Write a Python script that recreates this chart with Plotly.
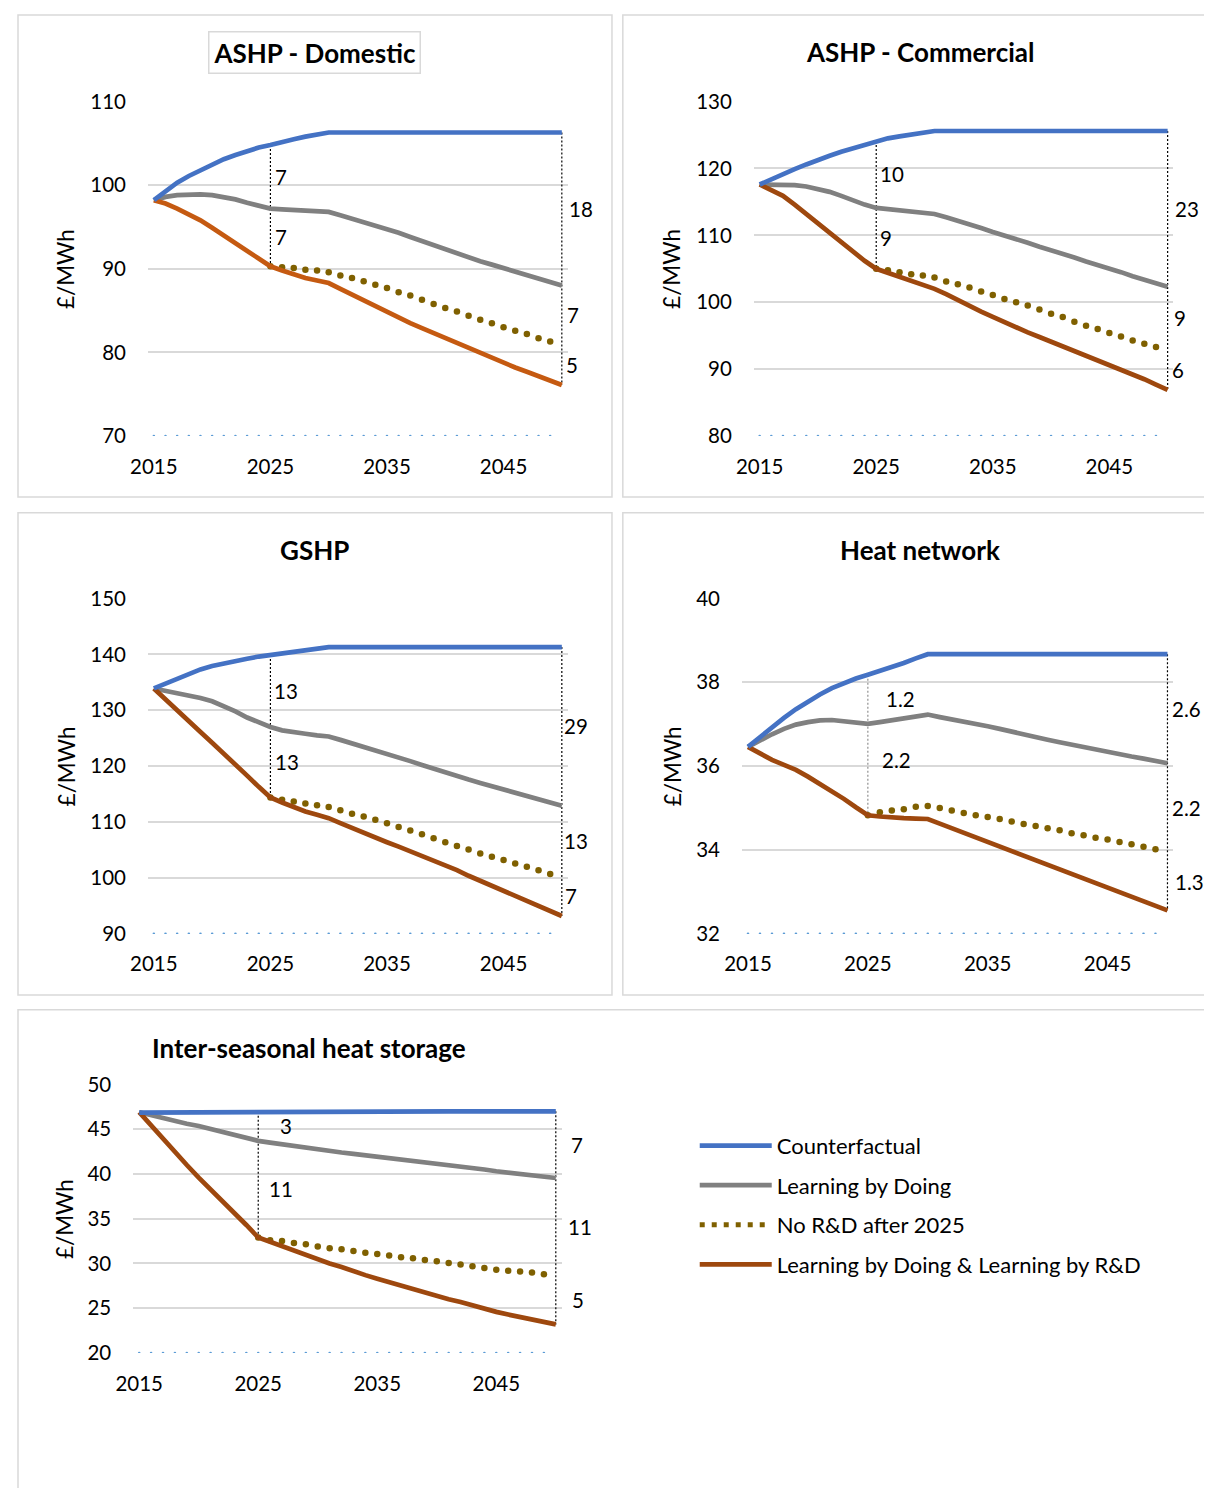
import plotly.graph_objects as go

years = list(range(2015, 2051))
years_norrd = list(range(2025, 2051))
baseline_years = list(range(2015, 2050))

# ---------------- Panel 1: ASHP - Domestic ----------------
p1_cf = [98.2, 99.3, 100.3, 101.1, 101.8, 102.5, 103.1, 103.6, 104.1, 104.5, 104.8,
         105.2, 105.5, 105.8, 106.1, 106.3, 106.3, 106.3, 106.3, 106.3, 106.3,
         106.3, 106.3, 106.3, 106.3, 106.3, 106.3, 106.3, 106.3, 106.3, 106.3,
         106.3, 106.3, 106.3, 106.3, 106.3]
p1_lbd = [98.2, 98.6, 98.8, 98.9, 98.9, 98.8, 98.6, 98.3, 97.9, 97.5, 97.2,
          97.1, 97.0, 96.9, 96.85, 96.8, 96.4, 96.0, 95.6, 95.2, 94.8,
          94.3, 93.8, 93.3, 92.8, 92.4, 91.9, 91.4, 90.9, 90.5, 90.1,
          89.7, 89.3, 88.9, 88.4, 88.0]
p1_rd = [98.2, 97.8, 97.2, 96.5, 95.8, 94.9, 94.0, 93.1, 92.2, 91.2, 90.3,
         89.8, 89.3, 88.9, 88.6, 88.3, 87.6, 86.9, 86.2, 85.5, 84.8,
         84.2, 83.5, 82.9, 82.3, 81.7, 81.1, 80.5, 79.9, 79.3, 78.7,
         78.2, 77.7, 77.2, 76.7, 76.1]
p1_norrd = [90.3, 90.2, 90.1, 89.9, 89.8, 89.6, 89.2, 88.9, 88.5, 88.1, 87.7,
            87.2, 86.8, 86.3, 85.8, 85.3, 84.9, 84.4, 83.9, 83.5, 83.0,
            82.6, 82.2, 81.7, 81.3, 80.9]
p1_labels_2025 = ["7", "7"]
p1_labels_2050 = ["18", "7", "5"]
p1_yticks = [70, 80, 90, 100, 110]

# ---------------- Panel 2: ASHP - Commercial ----------------
p2_cf = [117.6, 118.4, 119.1, 119.9, 120.6, 121.3, 121.9, 122.5, 123.0, 123.6, 124.1,
         124.5, 124.8, 125.1, 125.4, 125.6, 125.6, 125.6, 125.6, 125.6, 125.6,
         125.6, 125.6, 125.6, 125.6, 125.6, 125.6, 125.6, 125.6, 125.6, 125.6,
         125.6, 125.6, 125.6, 125.6, 125.6]
p2_lbd = [117.6, 117.6, 117.6, 117.5, 117.3, 116.9, 116.5, 115.9, 115.2, 114.6, 114.1,
          113.9, 113.7, 113.5, 113.35, 113.2, 112.7, 112.2, 111.6, 111.1, 110.5,
          110.0, 109.4, 108.9, 108.3, 107.8, 107.2, 106.7, 106.1, 105.6, 105.0,
          104.5, 103.9, 103.4, 102.8, 102.3]
p2_rd = [117.6, 116.8, 115.9, 114.6, 113.2, 111.8, 110.4, 108.9, 107.5, 106.2, 105.0,
         104.4, 103.9, 103.3, 102.6, 102.0, 101.2, 100.3, 99.5, 98.6, 97.8,
         97.0, 96.3, 95.5, 94.8, 94.1, 93.4, 92.7, 92.1, 91.4, 90.7,
         90.0, 89.3, 88.5, 87.7, 86.9]
p2_norrd = [105.0, 104.8, 104.5, 104.2, 104.0, 103.7, 103.1, 102.7, 102.2, 101.6, 101.1,
            100.5, 100.0, 99.5, 98.9, 98.3, 97.8, 97.1, 96.5, 96.0, 95.4,
            94.9, 94.3, 93.8, 93.3, 92.9]
p2_labels_2025 = ["10", "9"]
p2_labels_2050 = ["23", "9", "6"]
p2_yticks = [80, 90, 100, 110, 120, 130]

# ---------------- Panel 3: GSHP ----------------
p3_cf = [133.9, 134.8, 135.6, 136.5, 137.3, 137.9, 138.4, 138.8, 139.2, 139.6, 139.9,
         140.2, 140.4, 140.7, 141.0, 141.3, 141.3, 141.3, 141.3, 141.3, 141.3,
         141.3, 141.3, 141.3, 141.3, 141.3, 141.3, 141.3, 141.3, 141.3, 141.3,
         141.3, 141.3, 141.3, 141.3, 141.3]
p3_lbd = [133.9, 133.5, 133.1, 132.7, 132.2, 131.6, 130.8, 129.8, 128.7, 127.8, 127.0,
          126.4, 126.0, 125.8, 125.5, 125.3, 124.7, 124.1, 123.5, 122.9, 122.3,
          121.6, 120.9, 120.2, 119.5, 118.8, 118.2, 117.6, 117.0, 116.4, 115.8,
          115.2, 114.6, 114.1, 113.5, 112.9]
p3_rd = [133.9, 131.9, 129.9, 128.0, 126.1, 124.2, 122.3, 120.3, 118.3, 116.3, 114.4,
         113.5, 112.6, 111.9, 111.3, 110.7, 109.8, 108.9, 108.1, 107.2, 106.4,
         105.6, 104.8, 103.9, 103.1, 102.3, 101.4, 100.4, 99.5, 98.5, 97.6,
         96.7, 95.8, 94.9, 94.1, 93.2]
p3_norrd = [114.4, 114.0, 113.7, 113.3, 113.0, 112.7, 112.1, 111.5, 111.0, 110.4, 109.8,
            109.1, 108.5, 107.8, 107.1, 106.4, 105.7, 105.1, 104.4, 103.8, 103.2,
            102.6, 102.0, 101.4, 100.7, 100.2]
p3_labels_2025 = ["13", "13"]
p3_labels_2050 = ["29", "13", "7"]
p3_yticks = [90, 100, 110, 120, 130, 140, 150]

# ---------------- Panel 4: Heat network ----------------
p4_cf = [36.46, 36.70, 36.93, 37.15, 37.36, 37.54, 37.71, 37.86, 37.99, 38.09, 38.18,
         38.27, 38.36, 38.46, 38.57, 38.67, 38.67, 38.67, 38.67, 38.67, 38.67,
         38.67, 38.67, 38.67, 38.67, 38.67, 38.67, 38.67, 38.67, 38.67, 38.67,
         38.67, 38.67, 38.67, 38.67, 38.67]
p4_lbd = [36.46, 36.62, 36.76, 36.89, 36.99, 37.05, 37.09, 37.10, 37.07, 37.04, 37.01,
          37.05, 37.09, 37.14, 37.19, 37.23, 37.17, 37.12, 37.06, 37.01, 36.95,
          36.89, 36.82, 36.76, 36.69, 36.63, 36.57, 36.51, 36.46, 36.40, 36.34,
          36.29, 36.23, 36.18, 36.12, 36.07]
p4_rd = [36.46, 36.30, 36.15, 36.03, 35.91, 35.75, 35.58, 35.40, 35.22, 35.02, 34.83,
         34.80, 34.77, 34.76, 34.75, 34.74, 34.63, 34.52, 34.41, 34.30, 34.19,
         34.08, 33.97, 33.86, 33.75, 33.64, 33.53, 33.42, 33.31, 33.21, 33.10,
         32.99, 32.88, 32.77, 32.67, 32.56]
p4_norrd = [34.83, 34.90, 34.94, 34.97, 35.03, 35.05, 35.00, 34.94, 34.88, 34.83, 34.79,
            34.74, 34.68, 34.62, 34.57, 34.52, 34.47, 34.40, 34.35, 34.29, 34.25,
            34.19, 34.14, 34.08, 34.02, 33.92]
p4_labels_2025 = ["1.2", "2.2"]
p4_labels_2050 = ["2.6", "2.2", "1.3"]
p4_yticks = [32, 34, 36, 38, 40]

# ---------------- Panel 5: Inter-seasonal heat storage ----------------
p5_cf = [46.86, 46.87, 46.88, 46.89, 46.90, 46.91, 46.92, 46.93, 46.94, 46.95, 46.96,
         46.97, 46.98, 46.99, 47.0, 47.0, 47.0, 47.0, 47.0, 47.0, 47.0,
         47.0, 47.0, 47.0, 47.0, 47.0, 47.0, 47.0, 47.0, 47.0, 47.0,
         47.0, 47.0, 47.0, 47.0, 47.0]
p5_lbd = [46.9, 46.55, 46.2, 45.9, 45.6, 45.35, 45.0, 44.7, 44.3, 44.0, 43.7,
          43.5, 43.3, 43.1, 42.9, 42.7, 42.55, 42.4, 42.25, 42.1, 41.95,
          41.8, 41.65, 41.5, 41.35, 41.2, 41.0, 40.85, 40.65, 40.5, 40.3,
          40.15, 40.0, 39.85, 39.7, 39.55]
p5_rd = [46.9, 45.4, 43.9, 42.4, 41.0, 39.6, 38.3, 37.0, 35.7, 34.3, 32.9,
         32.4, 31.9, 31.4, 30.9, 30.4, 30.0, 29.6, 29.1, 28.7, 28.3,
         27.9, 27.5, 27.1, 26.8, 26.4, 26.0, 25.7, 25.3, 25.0, 24.6,
         24.3, 24.0, 23.7, 23.4, 23.2]
p5_norrd = [32.9, 32.6, 32.5, 32.3, 32.15, 31.9, 31.7, 31.6, 31.4, 31.2, 31.05,
            30.9, 30.7, 30.6, 30.4, 30.25, 30.05, 29.9, 29.7, 29.5, 29.3,
            29.2, 29.1, 29.0, 28.8, 28.6]
p5_labels_2025 = ["3", "11"]
p5_labels_2050 = ["7", "11", "5"]
p5_yticks = [20, 25, 30, 35, 40, 45, 50]

series_names = ["Counterfactual", "Learning by Doing", "No R&D after 2025",
                "Learning by Doing & Learning by R&D"]

# ---------------- styling / layout ----------------
# The page body keeps its default 8px margin, so the figure is drawn 8px in
# and 16px smaller than the window; page coordinates below are mapped to it.
PAGE_MARGIN = 8
W, H = 1220 - 2 * PAGE_MARGIN, 1504 - 2 * PAGE_MARGIN
FONT = "Lato, Carlito, 'Open Sans', sans-serif"
BLUE = "#4472C4"
GRAY = "#808080"
OLIVE = "#7F6000"
BROWN = "#9E480E"
ORANGE = "#C55A11"
GRID = "#D9D9D9"
TICK_SIZE = 20.5
LABEL_SIZE = 20.5


def px(x):
    return (x - PAGE_MARGIN) / W


def py(y):
    return 1 - (y - PAGE_MARGIN) / H


panels = [
    dict(title="ASHP - Domestic", cf=p1_cf, lbd=p1_lbd, rd=p1_rd, norrd=p1_norrd,
         l25=p1_labels_2025, l50=p1_labels_2050, yticks=p1_yticks, rdcolor=ORANGE,
         box=(8, 10, 611, 500), dom=(140, 566, 98, 438), title_xy=(309, 48), boxed=True,
         ytitle_x=57, sh25=[(3, 0), (3, 0)], sh50=[(5, 0), (3, 0), (2, 0)], vline25="black"),
    dict(title="ASHP - Commercial", cf=p2_cf, lbd=p2_lbd, rd=p2_rd, norrd=p2_norrd,
         l25=p2_labels_2025, l50=p2_labels_2050, yticks=p2_yticks, rdcolor=BROWN,
         box=(622, 10, 1230, 500), dom=(755, 1181, 98, 438), title_xy=(924, 48), boxed=False,
         ytitle_x=672, sh25=[(2, 0), (2, 0)], sh50=[(5, 0), (4, 0), (2, 0)], vline25="black"),
    dict(title="GSHP", cf=p3_cf, lbd=p3_lbd, rd=p3_rd, norrd=p3_norrd,
         l25=p3_labels_2025, l50=p3_labels_2050, yticks=p3_yticks, rdcolor=BROWN,
         box=(8, 516, 611, 1006), dom=(140, 566, 603, 944), title_xy=(309, 554), boxed=False,
         ytitle_x=57, sh25=[(2, 0), (3, 0)], sh50=[(0, 0), (0, 0), (1, 0)], vline25="black"),
    dict(title="Heat network", cf=p4_cf, lbd=p4_lbd, rd=p4_rd, norrd=p4_norrd,
         l25=p4_labels_2025, l50=p4_labels_2050, yticks=p4_yticks, rdcolor=BROWN,
         box=(622, 516, 1230, 1006), dom=(743, 1181, 603, 944), title_xy=(924, 554), boxed=False,
         ytitle_x=672, sh25=[(16, 0), (12, 10)], sh50=[(3, 0), (3, 0), (6, 0)], vline25="#909090"),
    dict(title="Inter-seasonal heat storage", cf=p5_cf, lbd=p5_lbd, rd=p5_rd, norrd=p5_norrd,
         l25=p5_labels_2025, l50=p5_labels_2050, yticks=p5_yticks, rdcolor=BROWN,
         box=(8, 1021, 1230, 1520), dom=(125, 560, 1097, 1370), title_xy=(303, 1060), boxed=False,
         ytitle_x=55, sh25=[(20, 0), (9, 0)], sh50=[(13, 0), (10, 0), (14, 0)], vline25="black"),
]

fig = go.Figure()
shapes = []
annotations = []

for i, p in enumerate(panels):
    n = i + 1
    xa = "x" if n == 1 else f"x{n}"
    ya = "y" if n == 1 else f"y{n}"
    xkey = "xaxis" if n == 1 else f"xaxis{n}"
    ykey = "yaxis" if n == 1 else f"yaxis{n}"
    x0, x1, y0, y1 = p["dom"]
    ymin, ymax = p["yticks"][0], p["yticks"][-1]
    is_legend_panel = (n == 5)

    # panel border
    bx0, by0, bx1, by1 = p["box"]
    shapes.append(dict(type="rect", xref="paper", yref="paper",
                       x0=px(bx0), x1=px(bx1), y0=py(by1), y1=py(by0),
                       line=dict(color=GRID, width=1.5), fillcolor="white", layer="below"))

    # blue dotted baseline at axis minimum
    fig.add_trace(go.Scatter(x=baseline_years, y=[ymin] * len(baseline_years), xaxis=xa, yaxis=ya,
                             mode="markers", marker=dict(size=2.6, color="#5B9BD5"),
                             showlegend=False, hoverinfo="skip"))

    # vertical dotted difference lines at 2025 and 2050
    i25 = years.index(2025)
    fig.add_trace(go.Scatter(x=[2025, 2025], y=[p["cf"][i25], p["rd"][i25]], xaxis=xa, yaxis=ya,
                             mode="lines", line=dict(color=p["vline25"], width=1.2, dash="2px,2px"),
                             showlegend=False, hoverinfo="skip"))
    fig.add_trace(go.Scatter(x=[2050, 2050], y=[p["cf"][-1], p["rd"][-1]], xaxis=xa, yaxis=ya,
                             mode="lines", line=dict(color="black", width=1.2, dash="2px,2px"),
                             showlegend=False, hoverinfo="skip"))

    # main series
    fig.add_trace(go.Scatter(x=years, y=p["lbd"], xaxis=xa, yaxis=ya, mode="lines",
                             line=dict(color=GRAY, width=4.7), name=series_names[1],
                             showlegend=is_legend_panel, legendrank=2, legendgroup="g2"))
    op = [1] * (len(years_norrd) - 1) + [0]
    fig.add_trace(go.Scatter(x=years_norrd, y=p["norrd"], xaxis=xa, yaxis=ya, mode="markers",
                             marker=dict(size=6.5, color=OLIVE, opacity=op), name=series_names[2],
                             showlegend=False))
    fig.add_trace(go.Scatter(x=years, y=p["rd"], xaxis=xa, yaxis=ya, mode="lines",
                             line=dict(color=p["rdcolor"], width=4.7), name=series_names[3],
                             showlegend=is_legend_panel, legendrank=4, legendgroup="g4"))
    fig.add_trace(go.Scatter(x=years, y=p["cf"], xaxis=xa, yaxis=ya, mode="lines",
                             line=dict(color=BLUE, width=4.7), name=series_names[0],
                             showlegend=is_legend_panel, legendrank=1, legendgroup="g1"))
    if is_legend_panel:
        fig.add_trace(go.Scatter(x=[None], y=[None], xaxis=xa, yaxis=ya, mode="lines",
                                 line=dict(color=OLIVE, width=5, dash="5px,7px"),
                                 name=series_names[2], legendrank=3, legendgroup="g3"))

    # axes
    fig.layout[xkey] = dict(domain=[px(x0), px(x1)], range=[2014.5, 2050.5], anchor=ya,
                            tickvals=[2015, 2025, 2035, 2045], showgrid=False, zeroline=False,
                            showline=False, ticks="", ticklabelstandoff=16,
                            tickfont=dict(family=FONT, size=TICK_SIZE, color="#000"))
    fig.layout[ykey] = dict(domain=[py(y1), py(y0)], range=[ymin, ymax], anchor=xa,
                            tickvals=p["yticks"], showgrid=True, gridcolor=GRID, gridwidth=1.5,
                            zeroline=False, showline=False, ticks="", ticklabelstandoff=21,
                            tickfont=dict(family=FONT, size=TICK_SIZE, color="#000"))

    # titles
    tx, ty = p["title_xy"]
    t = dict(text=f"<b>{p['title']}</b>", xref="paper", yref="paper", x=px(tx), y=py(ty),
             xanchor="center", yanchor="middle", showarrow=False,
             font=dict(family=FONT, size=26, color="#000"))
    if p["boxed"]:
        t.update(bordercolor=GRID, borderwidth=1.5, borderpad=4, bgcolor="white")
    annotations.append(t)
    annotations.append(dict(text="£/MWh", xref="paper", yref="paper", x=px(p["ytitle_x"]),
                            y=py((y0 + y1) / 2), textangle=-90, showarrow=False,
                            xanchor="center", yanchor="middle",
                            font=dict(family=FONT, size=22.5, color="#000")))

    # difference labels
    mids25 = [(p["cf"][i25] + p["lbd"][i25]) / 2, (p["lbd"][i25] + p["rd"][i25]) / 2]
    for lab, m, (dx, dy) in zip(p["l25"], mids25, p["sh25"]):
        annotations.append(dict(text=lab, x=2025, y=m, xref=xa, yref=ya, xanchor="left",
                                yanchor="middle", showarrow=False, xshift=dx, yshift=dy,
                                font=dict(family=FONT, size=LABEL_SIZE, color="#000")))
    mids50 = [(p["cf"][-1] + p["lbd"][-1]) / 2, (p["lbd"][-1] + p["norrd"][-1]) / 2,
              (p["norrd"][-1] + p["rd"][-1]) / 2]
    for lab, m, (dx, dy) in zip(p["l50"], mids50, p["sh50"]):
        annotations.append(dict(text=lab, x=2050, y=m, xref=xa, yref=ya, xanchor="left",
                                yanchor="middle", showarrow=False, xshift=dx, yshift=dy,
                                font=dict(family=FONT, size=LABEL_SIZE, color="#000")))

fig.update_layout(
    width=W, height=H, margin=dict(l=0, r=0, t=0, b=0),
    paper_bgcolor="white", plot_bgcolor="rgba(0,0,0,0)",
    shapes=shapes, annotations=annotations,
    showlegend=True,
    legend=dict(x=px(695), y=py(1138), xanchor="left", yanchor="top", bgcolor="rgba(0,0,0,0)",
                font=dict(family=FONT, size=22, color="#000"), tracegroupgap=8,
                itemwidth=72, traceorder="grouped"),
    font=dict(family=FONT),
)

fig.write_html("out.html")
